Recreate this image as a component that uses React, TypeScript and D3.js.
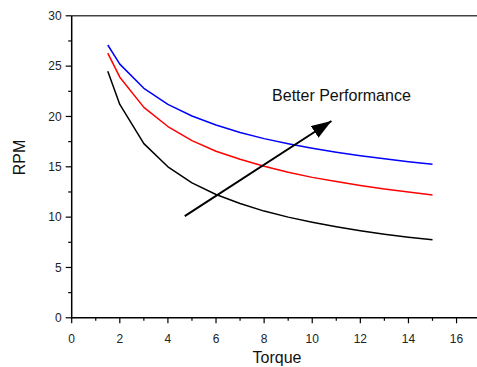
import React, { useEffect, useRef } from 'react';
import * as d3 from 'd3';

const torque = [1.5, 2, 3, 4, 5, 6, 7, 8, 9, 10, 11, 12, 13, 14, 15];
const rpmLow = [24.5, 21.2, 17.3, 15.0, 13.4, 12.25, 11.35, 10.6, 10.0, 9.5, 9.05, 8.65, 8.3, 8.0, 7.75];
const rpmMid = [26.3, 23.9, 20.9, 19.0, 17.6, 16.55, 15.75, 15.05, 14.45, 13.95, 13.55, 13.15, 12.8, 12.5, 12.2];
const rpmHigh = [27.1, 25.2, 22.8, 21.2, 20.05, 19.15, 18.4, 17.8, 17.3, 16.85, 16.45, 16.1, 15.8, 15.5, 15.25];
const seriesColors = ['#000000', '#ff0000', '#0000ff'];
const xTicks = [0, 2, 4, 6, 8, 10, 12, 14, 16];
const xMinor = [1, 3, 5, 7, 9, 11, 13, 15];
const yTicks = [0, 5, 10, 15, 20, 25, 30];
const yMinor = [2.5, 7.5, 12.5, 17.5, 22.5, 27.5];
const arrowFrom = { x: 4.7, y: 10.1 };
const arrowTo = { x: 10.8, y: 19.55 };
const noteText = 'Better Performance';
const notePos = { x: 8.33, y: 21.54 };

export default function App() {
  const svgRef = useRef<SVGSVGElement>(null);
  const width = 477;
  const height = 367;

  useEffect(() => {
    if (!svgRef.current) return;
    const svg = d3.select(svgRef.current);
    svg.selectAll('*').remove();

    const font = 'Liberation Sans, Arial, sans-serif';
    const x = d3.scaleLinear().domain([0, 16.85]).range([71.7, 477]);
    const y = d3.scaleLinear().domain([0, 30]).range([317.8, 15.8]);

    svg.append('rect').attr('width', width).attr('height', height).attr('fill', '#fff');

    // top frame line
    svg.append('line')
      .attr('x1', x(0)).attr('x2', width)
      .attr('y1', y(30)).attr('y2', y(30))
      .attr('stroke', '#444').attr('stroke-width', 1.5);

    // curves
    const line = d3.line<number>().x((_, i) => x(torque[i])).y(d => y(d));
    [rpmLow, rpmMid, rpmHigh].forEach((s, k) => {
      svg.append('path')
        .attr('d', line(s)!)
        .attr('fill', 'none')
        .attr('stroke', seriesColors[k])
        .attr('stroke-width', 1.5)
        .attr('stroke-linejoin', 'round');
    });

    // x axis
    const xa = svg.append('g').attr('transform', `translate(0,${y(0)})`);
    xa.append('line').attr('x1', x(0)).attr('x2', width).attr('stroke', '#000').attr('stroke-width', 1.5);
    xTicks.forEach(t => {
      xa.append('line').attr('x1', x(t)).attr('x2', x(t)).attr('y1', 0).attr('y2', 5.5)
        .attr('stroke', '#000').attr('stroke-width', 1.2);
      xa.append('text').attr('x', x(t)).attr('y', 25).attr('text-anchor', 'middle')
        .attr('font-family', font).attr('font-size', '12px').attr('fill', '#222').text(String(t));
    });
    xMinor.forEach(t => {
      xa.append('line').attr('x1', x(t)).attr('x2', x(t)).attr('y1', 0).attr('y2', 3)
        .attr('stroke', '#000').attr('stroke-width', 1.2);
    });

    // y axis
    const ya = svg.append('g').attr('transform', `translate(${x(0)},0)`);
    ya.append('line').attr('y1', y(0) + 0.7).attr('y2', y(30)).attr('stroke', '#000').attr('stroke-width', 1.5);
    yTicks.forEach(t => {
      ya.append('line').attr('x1', 0).attr('x2', -6).attr('y1', y(t)).attr('y2', y(t))
        .attr('stroke', '#000').attr('stroke-width', 1.2);
      ya.append('text').attr('x', -10).attr('y', y(t)).attr('dy', '0.35em').attr('text-anchor', 'end')
        .attr('font-family', font).attr('font-size', '12px').attr('fill', '#222').text(String(t));
    });
    yMinor.forEach(t => {
      ya.append('line').attr('x1', 0).attr('x2', -3.5).attr('y1', y(t)).attr('y2', y(t))
        .attr('stroke', '#000').attr('stroke-width', 1.2);
    });

    // axis titles
    svg.append('text').attr('x', 277).attr('y', 363).attr('text-anchor', 'middle')
      .attr('font-family', font).attr('font-size', '16px').attr('fill', '#111').text('Torque');
    svg.append('text').attr('transform', `translate(24.5,${157.5}) rotate(-90)`).attr('text-anchor', 'middle')
      .attr('font-family', font).attr('font-size', '16px').attr('fill', '#111').text('RPM');

    // arrow annotation
    const defs = svg.append('defs');
    defs.append('marker')
      .attr('id', 'arrowhead')
      .attr('viewBox', '0 0 20 14')
      .attr('refX', 20).attr('refY', 7)
      .attr('markerWidth', 20).attr('markerHeight', 14)
      .attr('markerUnits', 'userSpaceOnUse')
      .attr('orient', 'auto')
      .append('path').attr('d', 'M0,0 L20,7 L0,14 Z').attr('fill', '#000');

    svg.append('line')
      .attr('x1', x(arrowFrom.x)).attr('y1', y(arrowFrom.y))
      .attr('x2', x(arrowTo.x)).attr('y2', y(arrowTo.y))
      .attr('stroke', '#000').attr('stroke-width', 2)
      .attr('marker-end', 'url(#arrowhead)');

    svg.append('text').attr('x', x(notePos.x)).attr('y', y(notePos.y))
      .attr('font-family', font).attr('font-size', '16px').attr('fill', '#111').text(noteText);
  }, []);

  return (
    <div style={{ position: 'absolute', left: 0, top: 0 }}>
      <svg ref={svgRef} width={width} height={height} style={{ display: 'block' }} />
    </div>
  );
}
